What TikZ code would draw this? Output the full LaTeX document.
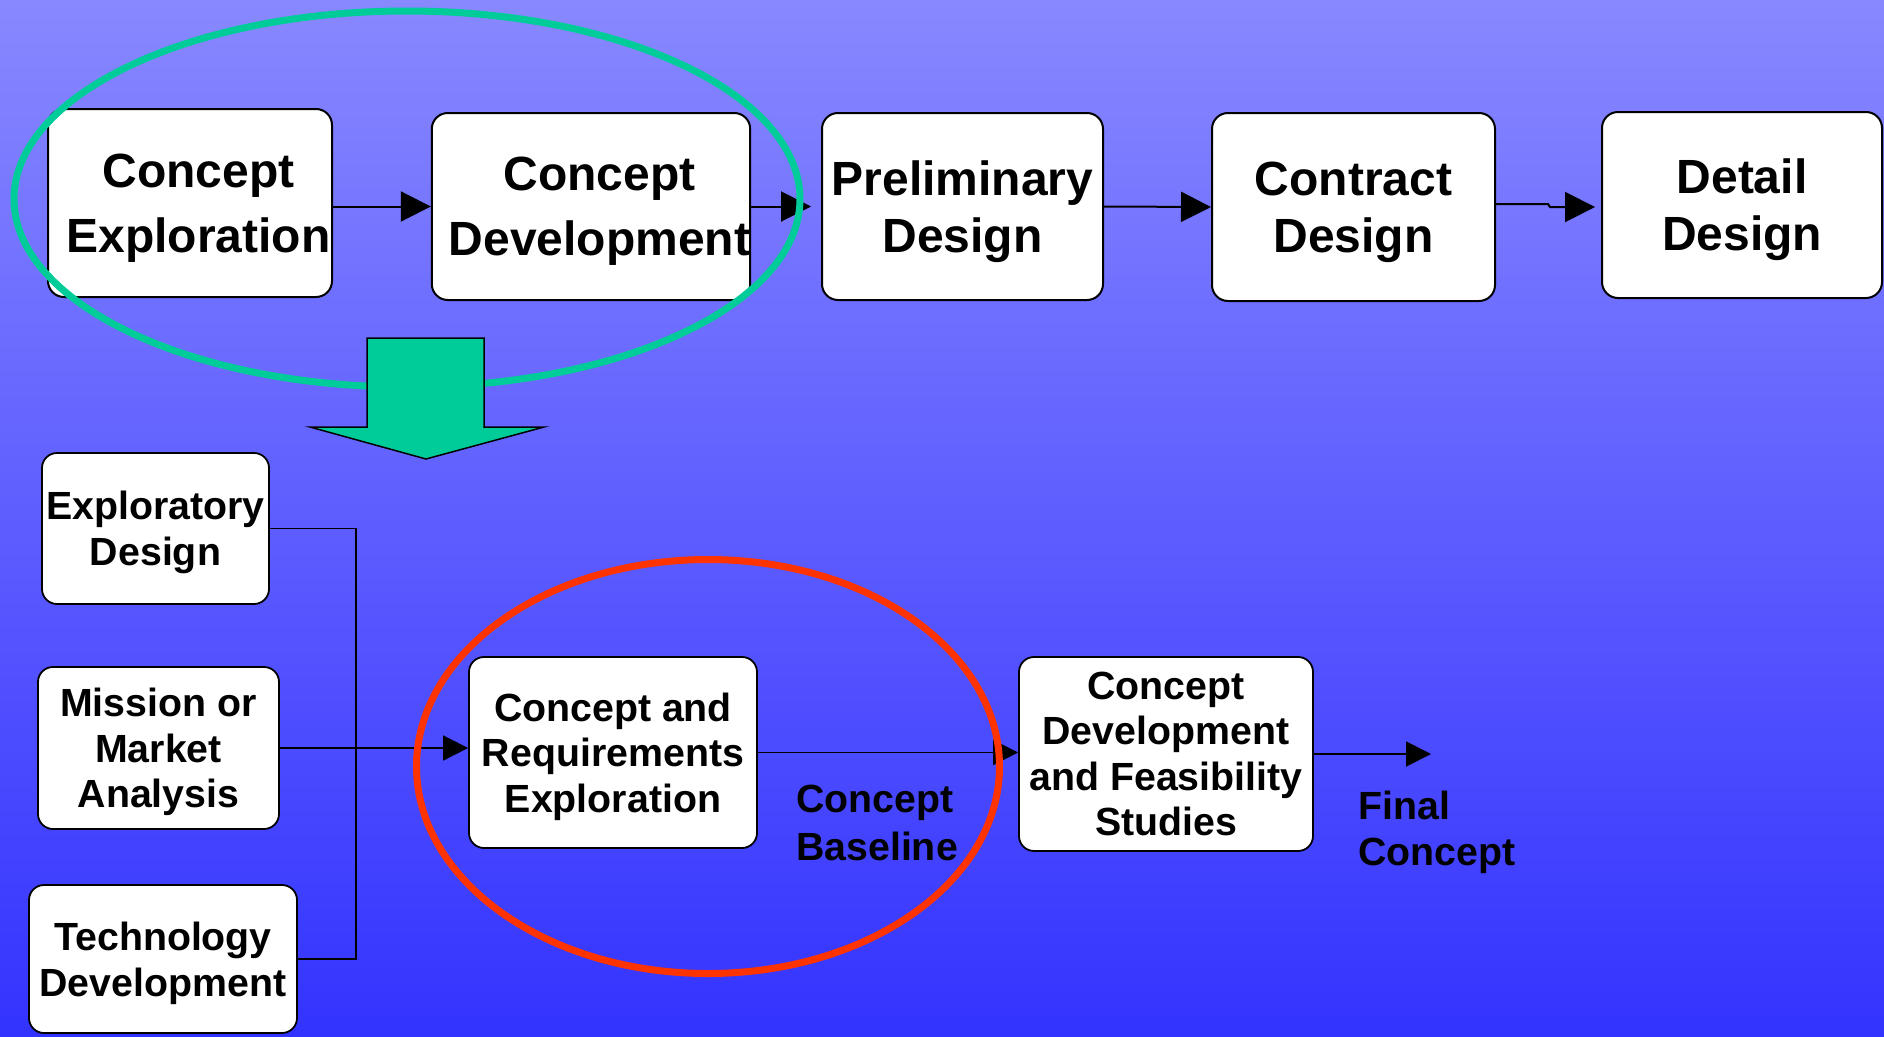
\documentclass[tikz,border=0pt]{standalone}
\usepackage{fontspec}
\setmainfont{Liberation Sans}
\usetikzlibrary{arrows.meta,shapes.geometric}

\definecolor{bgtop}{RGB}{136,136,255}
\definecolor{bgbot}{RGB}{51,51,255}
\definecolor{ringgreen}{RGB}{0,204,153}
\definecolor{ringred}{RGB}{255,51,0}

% leading space that moves a centred line a little to the right
\newcommand{\lead}{\hspace*{17pt}}

\begin{document}
\begin{tikzpicture}[x=1pt,y=-1pt,
  stage/.style={draw=black,line width=2pt,fill=white,rounded corners=16pt,
    align=center,inner sep=0pt,text depth=-6pt,
    font=\fontsize{48}{65}\selectfont\bfseries},
  stagetight/.style={stage,font=\fontsize{48}{57}\selectfont\bfseries},
  task/.style={draw=black,line width=1.8pt,fill=white,rounded corners=15pt,
    align=center,inner sep=0pt,text depth=-2pt,
    font=\fontsize{39.3}{45.5}\selectfont\bfseries},
  flow/.style={line width=2pt,-{Triangle[length=30pt,width=30pt]}},
  feed/.style={line width=1.8pt,-{Triangle[length=25pt,width=25pt]}},
  link/.style={line width=1.8pt},
  tag/.style={align=left,inner sep=0pt,anchor=north west,
    font=\fontsize{39.3}{46}\selectfont\bfseries},
  ring/.style={ellipse,line width=7pt,inner sep=0pt}
]
\useasboundingbox (0,0) rectangle (1884,1036);
\clip (0,0) rectangle (1884,1036);

% backdrop
\shade[top color=bgtop,bottom color=bgbot] (0,0) rectangle (1884,1036);

% design spiral stages
\node[stage,minimum width=284pt,minimum height=188pt] (ce) at (190,203) {\lead Concept\\\lead Exploration};
\node[stage,minimum width=318pt,minimum height=187pt] (cd) at (591,206.5) {\lead Concept\\\lead Development};
\node[stagetight,minimum width=281pt,minimum height=187pt] (pd) at (962.5,206.5) {Preliminary\\Design};
\node[stagetight,minimum width=283pt,minimum height=188pt] (cod) at (1353.5,207) {Contract\\Design};
\node[stagetight,minimum width=280pt,minimum height=186pt] (dd) at (1742,205) {Detail\\Design};

\draw[flow] (ce.east |- cd.west) -- (cd.west);
\draw[flow] (cd.east) -- ([xshift=-10pt]pd.west);
\draw[flow] (pd.east) -- (cod.west);
\draw[flow] ([yshift=3pt]cod.east) -- ++(52,0) -- ++(2,3) -- ([xshift=-6pt]dd.west |- 0,207);

% concept design activities
\node[task,minimum width=227pt,minimum height=151pt] (ed) at (155.5,528.5) {Exploratory\\Design};
\node[task,minimum width=241pt,minimum height=162pt] (ma) at (158.5,748) {Mission or\\Market\\Analysis};
\node[task,minimum width=268pt,minimum height=148pt] (td) at (163,959) {Technology\\Development};
\node[task,minimum width=288pt,minimum height=191pt] (cre) at (613,752.5) {Concept and\\Requirements\\Exploration};
\node[task,text depth=-8pt,minimum width=294pt,minimum height=194pt] (cdfs) at (1166,754) {Concept\\Development\\and Feasibility\\Studies};

\coordinate (bus) at (356,748);
\coordinate (final) at (1431,754);
\draw[link] (ed.east) -| (bus) |- (td.east);
\draw[feed] (ma.east) -- (cre.west |- ma.east);
\draw[feed] (cre.east) -- (cdfs.west |- cre.east);
\draw[feed] (cdfs.east) -- (final);

\node[tag,font=\fontsize{39.3}{47.5}\selectfont\bfseries] (baseline) at (796,785) {Concept\\Baseline};
\node[tag] (finalc) at (1358,791) {Final\\Concept};

% highlight rings
\node[ring,draw=ringgreen,minimum width=786pt,minimum height=376pt] (early) at (407,199) {};
\node[ring,draw=ringred,minimum width=583pt,minimum height=414pt] (focus) at (708,766.5) {};

% expansion arrow
\draw[line width=1.5pt,fill=ringgreen] (367,338) -- (484,338) -- (484,427) -- (544,427)
  -- (426,459) -- (310,427) -- (367,427) -- cycle;
\end{tikzpicture}
\end{document}
